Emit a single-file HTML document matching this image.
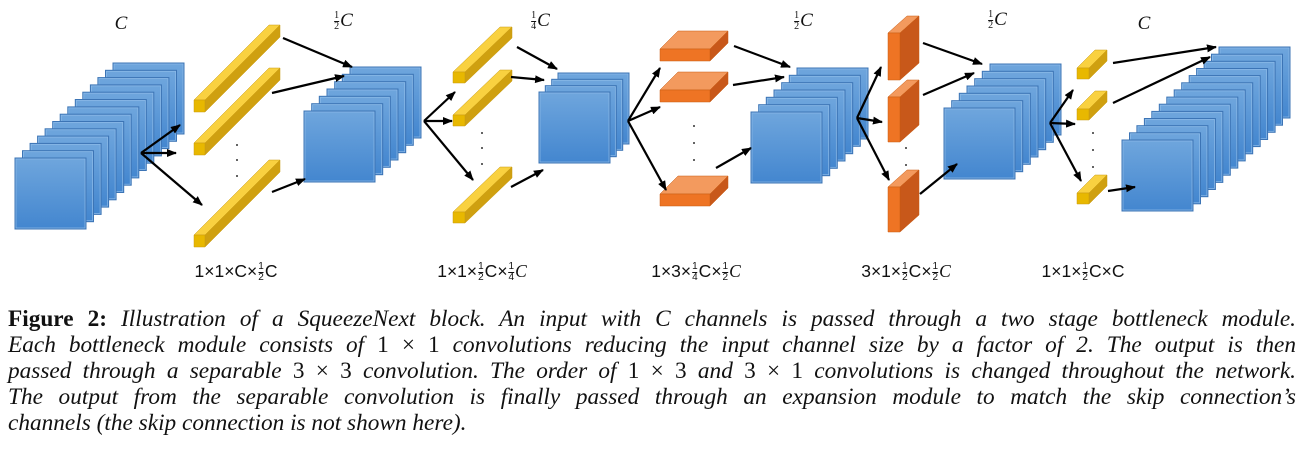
<!DOCTYPE html>
<html><head><meta charset="utf-8">
<style>
body{margin:0;background:#fff;width:1304px;height:453px;overflow:hidden;position:relative;font-family:"Liberation Serif",serif}
svg{position:absolute;left:0;top:0}
.lab{position:absolute;font-family:"Liberation Sans",sans-serif;font-size:17.5px;color:#111;white-space:nowrap;transform:translateX(-50%)}
.ml{position:absolute;font-family:"Liberation Serif",serif;font-style:italic;font-size:19px;color:#111;white-space:nowrap;transform:translateX(-50%)}
.fr{display:inline-block;vertical-align:middle;font-size:10px;line-height:10px;text-align:center;font-style:normal;margin:0 1px}
.fr span{display:block}
.fr span:first-child{border-bottom:1px solid #111}
.cap{position:absolute;left:8px;width:1288px;font-size:23.3px;line-height:26px;font-style:italic;text-align:justify;text-align-last:justify;white-space:nowrap;color:#111}
.cap.last{text-align-last:left}
.up{font-style:normal}
</style></head><body>
<svg width="1304" height="290" viewBox="0 0 1304 290">
<defs>
<linearGradient id="bg" x1="0" y1="0" x2="0" y2="1"><stop offset="0" stop-color="#6fa6dd"/><stop offset="1" stop-color="#4386cf"/></linearGradient>
<symbol id="sq" overflow="visible"><rect x="0" y="0" width="71" height="71" fill="url(#bg)" stroke="#3c74b5" stroke-width="1"/><rect x="1" y="1" width="69" height="69" fill="none" stroke="#8dbbe8" stroke-width="0.7"/></symbol>
<marker id="ah" markerWidth="10" markerHeight="8" refX="9" refY="4" orient="auto" markerUnits="userSpaceOnUse"><path d="M0,0 L10,4 L0,8 Z" fill="#000"/></marker>
</defs>
<g>
<use href="#sq" x="113" y="63"/><use href="#sq" x="105.5" y="70.3"/><use href="#sq" x="97.9" y="77.6"/><use href="#sq" x="90.4" y="84.9"/><use href="#sq" x="82.8" y="92.2"/><use href="#sq" x="75.3" y="99.5"/><use href="#sq" x="67.8" y="106.9"/><use href="#sq" x="60.2" y="114.2"/><use href="#sq" x="52.7" y="121.5"/><use href="#sq" x="45.1" y="128.8"/><use href="#sq" x="37.6" y="136.1"/><use href="#sq" x="30.1" y="143.4"/><use href="#sq" x="22.5" y="150.7"/><use href="#sq" x="15" y="158"/>
</g>
<g>
<use href="#sq" x="350" y="67"/><use href="#sq" x="342.3" y="74.3"/><use href="#sq" x="334.7" y="81.7"/><use href="#sq" x="327" y="89"/><use href="#sq" x="319.3" y="96.3"/><use href="#sq" x="311.7" y="103.7"/><use href="#sq" x="304" y="111"/>
</g>
<g><use href="#sq" x="558" y="73"/><use href="#sq" x="551.7" y="79.3"/><use href="#sq" x="545.3" y="85.7"/><use href="#sq" x="539" y="92"/></g>
<g>
<use href="#sq" x="797" y="68"/><use href="#sq" x="789.3" y="75.3"/><use href="#sq" x="781.7" y="82.7"/><use href="#sq" x="774" y="90"/><use href="#sq" x="766.3" y="97.3"/><use href="#sq" x="758.7" y="104.7"/><use href="#sq" x="751" y="112"/>
</g>
<g>
<use href="#sq" x="990" y="64"/><use href="#sq" x="982.3" y="71.3"/><use href="#sq" x="974.7" y="78.7"/><use href="#sq" x="967" y="86"/><use href="#sq" x="959.3" y="93.3"/><use href="#sq" x="951.7" y="100.7"/><use href="#sq" x="944" y="108"/>
</g>
<g>
<use href="#sq" x="1219" y="47"/><use href="#sq" x="1211.5" y="54.2"/><use href="#sq" x="1204.1" y="61.3"/><use href="#sq" x="1196.6" y="68.5"/><use href="#sq" x="1189.2" y="75.6"/><use href="#sq" x="1181.7" y="82.8"/><use href="#sq" x="1174.2" y="89.9"/><use href="#sq" x="1166.8" y="97.1"/><use href="#sq" x="1159.3" y="104.2"/><use href="#sq" x="1151.8" y="111.4"/><use href="#sq" x="1144.4" y="118.5"/><use href="#sq" x="1136.9" y="125.7"/><use href="#sq" x="1129.5" y="132.8"/><use href="#sq" x="1122" y="140"/>
</g>

<g stroke="#c89a10" stroke-width="0.5">
<g id="yb1">
<polygon points="194,100 269,25 280,25 205,100" fill="#f9d140"/>
<polygon points="205,100 280,25 280,37 205,112" fill="#cfa010"/>
<polygon points="194,100 205,100 205,112 194,112" fill="#e8b800"/>
</g>
<use href="#yb1" y="43"/>
<use href="#yb1" y="135"/>
</g>
<g stroke="#c89a10" stroke-width="0.5">
<g id="yb2">
<polygon points="453,72 500,27 512,27 465,72" fill="#f9d140"/>
<polygon points="465,72 512,27 512,38 465,83" fill="#cfa010"/>
<polygon points="453,72 465,72 465,83 453,83" fill="#e8b800"/>
</g>
<use href="#yb2" y="43"/>
<use href="#yb2" y="140"/>
</g>
<g stroke="#c85a10" stroke-width="0.5">
<g id="ob1">
<polygon points="660,49 678,31 728,31 710,49" fill="#f39a5e"/>
<polygon points="710,49 728,31 728,43 710,61" fill="#c8581a"/>
<polygon points="660,49 710,49 710,61 660,61" fill="#ee7424"/>
</g>
<use href="#ob1" y="41"/>
<use href="#ob1" y="145"/>
</g>
<g stroke="#c85a10" stroke-width="0.5">
<polygon points="888,33 907,16 919,16 900,33" fill="#f39a5e"/>
<polygon points="900,33 919,16 919,63 900,80" fill="#c8581a"/>
<polygon points="888,33 900,33 900,80 888,80" fill="#ee7424"/>
<polygon points="888,97 907,80 919,80 900,97" fill="#f39a5e"/>
<polygon points="900,97 919,80 919,125 900,142" fill="#c8581a"/>
<polygon points="888,97 900,97 900,142 888,142" fill="#ee7424"/>
<polygon points="888,187 907,170 919,170 900,187" fill="#f39a5e"/>
<polygon points="900,187 919,170 919,215 900,232" fill="#c8581a"/>
<polygon points="888,187 900,187 900,232 888,232" fill="#ee7424"/>
</g>
<g stroke="#c89a10" stroke-width="0.5">
<g id="yc">
<polygon points="1077,68 1095,50 1107,50 1089,68" fill="#f9d140"/>
<polygon points="1089,68 1107,50 1107,61 1089,79" fill="#cfa010"/>
<polygon points="1077,68 1089,68 1089,79 1077,79" fill="#e8b800"/>
</g>
<use href="#yc" y="41"/>
<use href="#yc" y="125"/>
</g>
<g fill="#333">
<circle cx="237" cy="145" r="1"/><circle cx="237" cy="160" r="1"/><circle cx="237" cy="176" r="1"/>
<circle cx="482" cy="133" r="1"/><circle cx="482" cy="148" r="1"/><circle cx="482" cy="164" r="1"/>
<circle cx="694" cy="126" r="1"/><circle cx="694" cy="143" r="1"/><circle cx="694" cy="160" r="1"/>
<circle cx="906" cy="148" r="1"/><circle cx="906" cy="165" r="1"/>
<circle cx="1093" cy="133" r="1"/><circle cx="1093" cy="150" r="1"/><circle cx="1093" cy="167" r="1"/>
</g>
<g stroke="#000" stroke-width="2.2" fill="none" marker-end="url(#ah)">
<line x1="141" y1="153" x2="180" y2="125"/><line x1="141" y1="153" x2="176" y2="153"/><line x1="141" y1="153" x2="202" y2="205"/>
<line x1="283" y1="38" x2="352" y2="67"/><line x1="272" y1="93" x2="344" y2="76"/><line x1="272" y1="192" x2="305" y2="179"/>
<line x1="424" y1="121" x2="455" y2="92"/><line x1="424" y1="121" x2="452" y2="121"/><line x1="424" y1="121" x2="473" y2="180"/>
<line x1="517" y1="47" x2="557" y2="69"/><line x1="511" y1="77" x2="544" y2="80"/><line x1="511" y1="187" x2="543" y2="170"/>
<line x1="628" y1="121" x2="660" y2="68"/><line x1="628" y1="121" x2="660" y2="107"/><line x1="628" y1="121" x2="666" y2="190"/>
<line x1="734" y1="46" x2="790" y2="67"/><line x1="733" y1="85" x2="784" y2="77"/><line x1="716" y1="168" x2="751" y2="148"/>
<line x1="857" y1="118" x2="881" y2="67"/><line x1="857" y1="118" x2="882" y2="122"/><line x1="857" y1="118" x2="889" y2="180"/>
<line x1="923" y1="43" x2="982" y2="64"/><line x1="923" y1="95" x2="974" y2="73"/><line x1="920" y1="194" x2="957" y2="164"/>
<line x1="1050" y1="123" x2="1073" y2="90"/><line x1="1050" y1="123" x2="1075" y2="124"/><line x1="1050" y1="123" x2="1081" y2="181"/>
<line x1="1113" y1="63" x2="1216" y2="47"/><line x1="1113" y1="103" x2="1210" y2="57"/><line x1="1108" y1="191" x2="1135" y2="187"/>
</g>
</svg>

<div class="ml" style="left:121px;top:13px">C</div>
<div class="ml" style="left:343px;top:10px"><span class="fr"><span>1</span><span>2</span></span>C</div>
<div class="ml" style="left:540px;top:10px"><span class="fr"><span>1</span><span>4</span></span>C</div>
<div class="ml" style="left:803px;top:10px"><span class="fr"><span>1</span><span>2</span></span>C</div>
<div class="ml" style="left:997px;top:9px"><span class="fr"><span>1</span><span>2</span></span>C</div>
<div class="ml" style="left:1144px;top:13px">C</div>

<div class="lab" style="left:236px;top:261px">1×1×C×<span class="fr"><span>1</span><span>2</span></span>C</div>
<div class="lab" style="left:482px;top:261px">1×1×<span class="fr"><span>1</span><span>2</span></span>C×<span class="fr"><span>1</span><span>4</span></span><i style="font-family:'Liberation Serif',serif">C</i></div>
<div class="lab" style="left:696px;top:261px">1×3×<span class="fr"><span>1</span><span>4</span></span>C×<span class="fr"><span>1</span><span>2</span></span><i style="font-family:'Liberation Serif',serif">C</i></div>
<div class="lab" style="left:906px;top:261px">3×1×<span class="fr"><span>1</span><span>2</span></span>C×<span class="fr"><span>1</span><span>2</span></span><i style="font-family:'Liberation Serif',serif">C</i></div>
<div class="lab" style="left:1083px;top:261px">1×1×<span class="fr"><span>1</span><span>2</span></span>C×C</div>

<div class="cap" style="top:306px"><b class="up">Figure 2:</b> Illustration of a SqueezeNext block. An input with C channels is passed through a two stage bottleneck module.</div>
<div class="cap" style="top:332px">Each bottleneck module consists of <span class="up">1 × 1</span> convolutions reducing the input channel size by a factor of 2. The output is then</div>
<div class="cap" style="top:358px">passed through a separable <span class="up">3 × 3</span> convolution. The order of <span class="up">1 × 3</span> and <span class="up">3 × 1</span> convolutions is changed throughout the network.</div>
<div class="cap" style="top:384px">The output from the separable convolution is finally passed through an expansion module to match the skip connection’s</div>
<div class="cap last" style="top:410px">channels (the skip connection is not shown here).</div>
</body></html>
